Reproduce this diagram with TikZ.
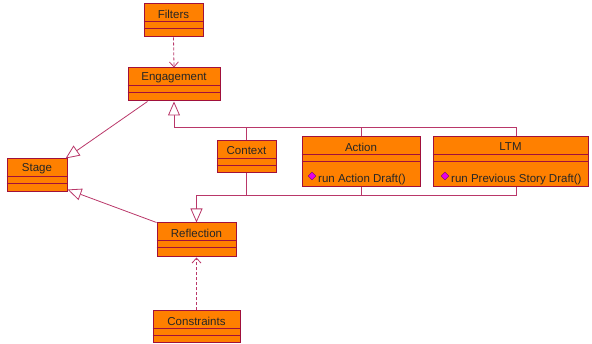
\documentclass[tikz,border=0pt]{standalone}
\usepackage{fontspec}
\setmainfont{Liberation Sans}
\usetikzlibrary{calc, arrows.meta}

\definecolor{classfill}{RGB}{255,128,0}
\definecolor{classline}{RGB}{160,16,60}
\definecolor{linkline}{RGB}{185,55,105}
\definecolor{opcolor}{RGB}{230,0,230}

\begin{document}
\begin{tikzpicture}[x=1pt,y=-1pt,
  cls/.style={draw=classline, fill=classfill, line width=1pt, inner sep=0pt},
  title/.style={font=\fontsize{11.5}{13}\selectfont, text=black!85, inner sep=0pt},
  opmark/.style={draw=black!50!opcolor, fill=opcolor, minimum size=5.5pt, inner sep=0pt, rotate=45},
  gen/.style={draw=linkline, line width=.8pt, -{Triangle[open,length=14pt,width=12pt,fill=white]}},
  dep/.style={draw=linkline, line width=.8pt, dash pattern=on 3pt off 2pt, -{Straight Barb[length=5pt,width=9pt]}},
  bus/.style={draw=linkline, line width=.8pt}]
\useasboundingbox (0,0) rectangle (592,344);

\node[cls, minimum width=59pt, minimum height=33pt] (filters) at (173.5,20.5) {};
\node[cls, minimum width=92pt, minimum height=33pt] (engagement) at (174,84.5) {};
\node[cls, minimum width=60pt, minimum height=33pt] (stage) at (37,175.5) {};
\node[cls, minimum width=79pt, minimum height=34pt] (reflection) at (196.5,240) {};
\node[cls, minimum width=59pt, minimum height=32pt] (context) at (246.5,157) {};
\node[cls, minimum width=118pt, minimum height=50pt] (action) at (361,162) {};
\node[cls, minimum width=155pt, minimum height=50pt] (ltm) at (510.5,162) {};
\node[cls, minimum width=87pt, minimum height=32pt] (constraints) at (196.5,327) {};

\foreach \c/\t in {filters/Filters, engagement/Engagement, stage/Stage, reflection/Reflection,
                   context/Context, action/Action, ltm/LTM, constraints/Constraints}{
  \node[title] (\c-title) at ([yshift=-10.5pt]\c.north) {\t};
  \draw[classline, line width=1pt] ([yshift=-18pt]\c.north west) -- ([yshift=-18pt]\c.north east)
    ([yshift=-25pt]\c.north west) -- ([yshift=-25pt]\c.north east);
}

\node[opmark] (action-mark) at (312,176) {};
\node[title, anchor=west] (action-op) at (318,179.5) {run Action Draft()};
\node[opmark] (ltm-mark) at (445,176) {};
\node[title, anchor=west] (ltm-op) at (451,179.5) {run Previous Story Draft()};

\draw[dep] (filters.south) -- (engagement.north);
\draw[dep] (constraints.north) -- (reflection.south);
\draw[gen] ([xshift=20pt]engagement.south west) -- ([xshift=-2pt]stage.north east);
\draw[gen] (reflection.north west) -- ([yshift=3pt]stage.south east);

\coordinate (topbus) at ([yshift=-26pt]engagement.south);
\coordinate (botbus) at ([yshift=27pt]reflection.north);
\draw[bus] (context.north) -- (context.north |- topbus)
  (action.north) -- (action.north |- topbus)
  ([xshift=5.5pt]ltm.north) |- (topbus);
\draw[gen] (topbus) -- (engagement.south);
\draw[bus] (context.south) -- (context.south |- botbus)
  (action.south) -- (action.south |- botbus)
  ([xshift=5.5pt]ltm.south) |- (botbus);
\draw[gen] (botbus) -- (reflection.north);
\end{tikzpicture}
\end{document}
